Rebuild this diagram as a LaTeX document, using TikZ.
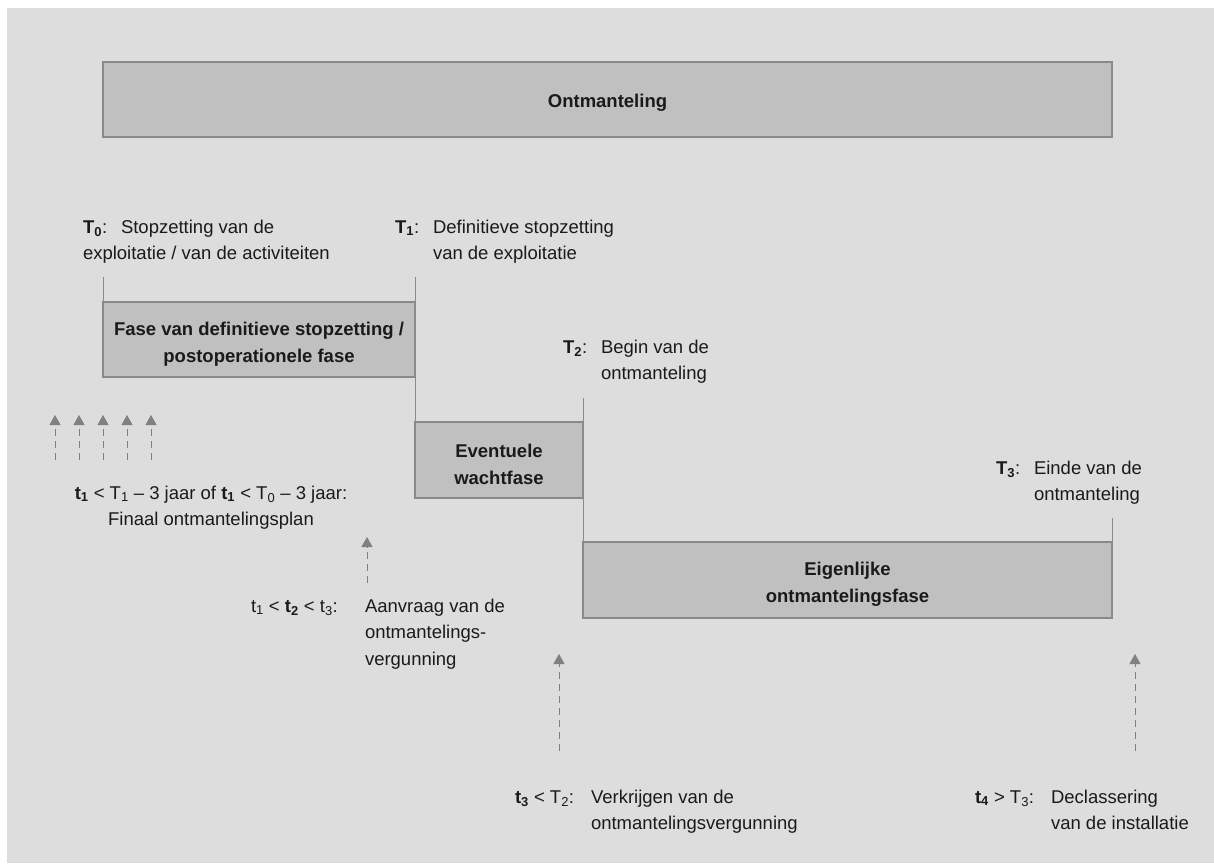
\documentclass[tikz,border=0pt]{standalone}
\usepackage{fontspec}
\setmainfont{Liberation Sans}
\usetikzlibrary{arrows.meta}
\definecolor{bgc}{HTML}{DDDDDD}
\definecolor{boxc}{HTML}{C0C0C0}
\definecolor{edgec}{HTML}{8A8A8A}
\definecolor{arrc}{HTML}{808080}
\definecolor{txtc}{HTML}{1A1A1A}
\begin{document}
\begin{tikzpicture}[x=1pt,y=-1pt,
  every node/.style={font=\fontsize{18.5}{26.7}\selectfont, inner sep=0pt, outer sep=0pt, text=txtc},
  phase/.style={draw=edgec, line width=1.3pt, fill=boxc},
  boxtxt/.style={font=\fontsize{18.5}{26.7}\selectfont\bfseries, align=center},
  vline/.style={draw=edgec, line width=1pt},
  txt/.style={anchor=base west, align=left},
  upar/.style={draw=arrc, line width=1pt, dash pattern=on 7pt off 5pt, -{Triangle[length=10pt,width=11pt]}}
]
\useasboundingbox (0,0) rectangle (1214,863);
\fill[bgc] (7,8) rectangle (1214,863);

% phase boxes
\node[phase, minimum width=1009, minimum height=75] (top) at (607.5,99.5) {};
\node[phase, minimum width=312, minimum height=75] (b1) at (259,339.5) {};
\node[phase, minimum width=168, minimum height=76] (wacht) at (499,460) {};
\node[phase, minimum width=529, minimum height=76] (eigen) at (847.5,580) {};
\node[boxtxt] (topt) at (607.5,103) {Ontmanteling};
\node[boxtxt] (b1t) at (259,344) {Fase van definitieve stopzetting /\\postoperationele fase};
\node[boxtxt] (wachtt) at (499,464.5) {Eventuele\\wachtfase};
\node[boxtxt] (eigent) at (847.5,584.5) {Eigenlijke\\ontmantelingsfase};

% milestone lines
\coordinate (c0) at (103,277);
\coordinate (c1) at (415,277);
\coordinate (c2) at (583,398);
\coordinate (c3) at (1112,518);
\draw[vline] (c0) -- (b1.north west);
\draw[vline] (c1) -- (wacht.north west);
\draw[vline] (c2) -- (eigen.north west);
\draw[vline] (c3) -- (eigen.north east);

% milestone labels (base anchor = last line baseline)
\node[txt] (l0) at (83,259.7) {\makebox[38pt][l]{\textbf{T\textsubscript{0}}:}Stopzetting van de\\exploitatie / van de activiteiten};
\node[txt] (l1a) at (395,233) {\textbf{T\textsubscript{1}}:};
\node[txt] (l1b) at (433,259.7) {Definitieve stopzetting\\van de exploitatie};
\node[txt] (l2a) at (563,353) {\textbf{T\textsubscript{2}}:};
\node[txt] (l2b) at (601,379.7) {Begin van de\\ontmanteling};
\node[txt] (l3a) at (996,474) {\textbf{T\textsubscript{3}}:};
\node[txt] (l3b) at (1034,500.7) {Einde van de\\ontmanteling};

% deadline labels
\node[anchor=base, align=center] (n1) at (211,525.7) {\textbf{t\textsubscript{1}} < T\textsubscript{1} – 3 jaar of \textbf{t\textsubscript{1}} < T\textsubscript{0} – 3 jaar:\\Finaal ontmantelingsplan};
\node[txt] (n2a) at (251,612) {t\textsubscript{1} < \textbf{t\textsubscript{2}} < t\textsubscript{3}:};
\node[txt] (n2b) at (365,665.4) {Aanvraag van de\\ontmantelings-\\vergunning};
\node[txt] (n3a) at (515,803) {\textbf{t\textsubscript{3}} < T\textsubscript{2}:};
\node[txt] (n3b) at (591,829.7) {Verkrijgen van de\\ontmantelingsvergunning};
\node[txt] (n4a) at (975,803) {\textbf{t\textsubscript{4}} > T\textsubscript{3}:};
\node[txt] (n4b) at (1051,829.7) {Declassering\\van de installatie};

% dashed arrows
\foreach \i/\xx in {1/55,2/79,3/103,4/127,5/151}{
  \coordinate (as\i) at (\xx,460);
  \coordinate (ae\i) at (\xx,415);
  \draw[upar] (as\i) -- (ae\i);
}
\coordinate (bs) at (367,583); \coordinate (be) at (367,537);
\draw[upar] (bs) -- (be);
\coordinate (cs) at (559,751); \coordinate (ce) at (559,654);
\draw[upar] (cs) -- (ce);
\coordinate (ds) at (1135,751); \coordinate (de) at (1135,654);
\draw[upar] (ds) -- (de);
\end{tikzpicture}
\end{document}
